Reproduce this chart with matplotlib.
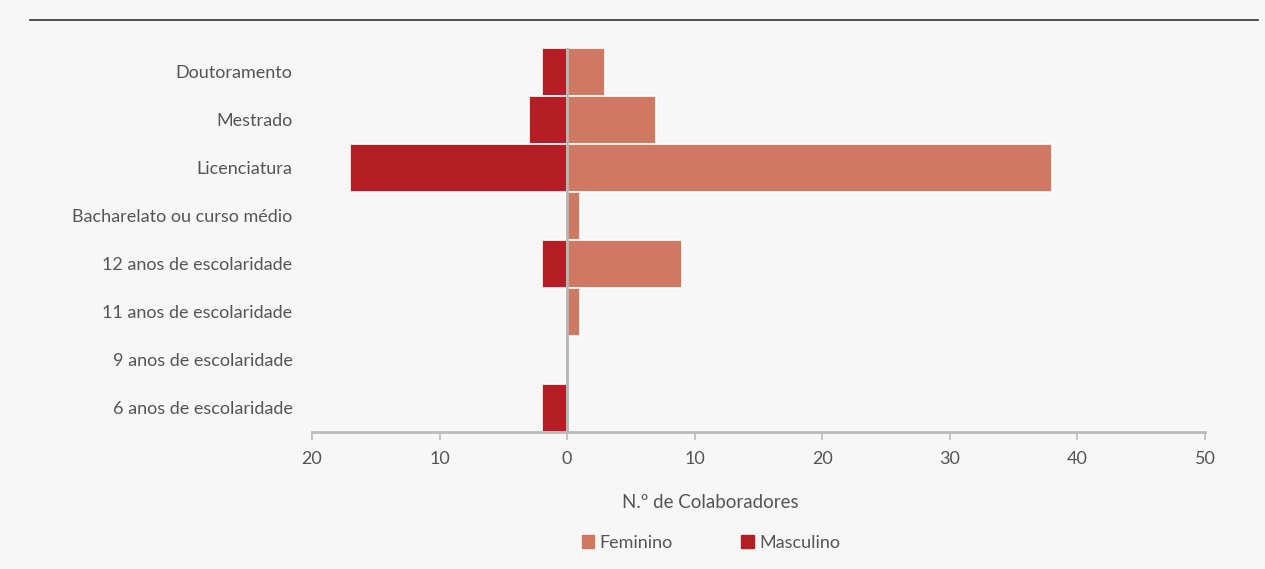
import matplotlib
matplotlib.use('Agg')
import matplotlib.pyplot as plt
from matplotlib.patches import Patch

categorias = ['Doutoramento', 'Mestrado', 'Licenciatura', 'Bacharelato ou curso médio',
              '12 anos de escolaridade', '11 anos de escolaridade',
              '9 anos de escolaridade', '6 anos de escolaridade']
feminino = [3, 7, 38, 1, 9, 1, 0, 0]
masculino = [2, 3, 17, 0, 2, 0, 0, 2]
ticks = [-20, -10, 0, 10, 20, 30, 40, 50]

cor_fem = '#cf7862'
cor_masc = '#b41f25'
cor_texto = '#555555'
fundo = '#f7f7f7'

plt.rcParams['font.family'] = ['Lato', 'DejaVu Sans']

fig = plt.figure(figsize=(12.65, 5.69), dpi=100)
fig.patch.set_facecolor(fundo)
ax = fig.add_axes([312 / 1265, 1 - 432 / 569, (1205 - 312) / 1265, (432 - 48) / 569])
ax.set_facecolor(fundo)

y = list(range(len(categorias)))
ax.barh(y, feminino, height=1.0, color=cor_fem, edgecolor='white', linewidth=1.2, zorder=2)
ax.barh(y, [-v for v in masculino], height=1.0, color=cor_masc, edgecolor='white', linewidth=1.2, zorder=2)
ax.axvline(0, color='#b5b5b5', linewidth=2, zorder=3)

ax.set_xlim(-20, 50)
ax.set_ylim(len(categorias) - 0.5, -0.5)
ax.set_yticks(y)
ax.set_yticklabels(categorias, fontsize=13, color=cor_texto)
ax.tick_params(axis='y', length=0, pad=14)
ax.set_xticks(ticks)
ax.set_xticklabels([str(abs(t)) for t in ticks], fontsize=13, color=cor_texto)
ax.tick_params(axis='x', length=6, width=1.2, color='#bbbbbb', pad=8, direction='out')

for s in ['top', 'right', 'left']:
    ax.spines[s].set_visible(False)
ax.spines['bottom'].set_color('#bbbbbb')
ax.spines['bottom'].set_linewidth(2)

ax.set_xlabel('N.º de Colaboradores', fontsize=13.5, color=cor_texto)
ax.xaxis.set_label_coords((710 - 312) / (1205 - 312), -(503 - 432) / (432 - 48), transform=ax.transAxes)
ax.xaxis.label.set_va('center')

handles = [Patch(color=cor_fem, label='Feminino'), Patch(color=cor_masc, label='Masculino')]
fig.legend(handles=handles, loc='center', bbox_to_anchor=(711 / 1265, 1 - 543 / 569),
           ncol=2, frameon=False, fontsize=13, handlelength=0.7, handleheight=0.7,
           handletextpad=0.3, columnspacing=3.8, labelcolor=cor_texto)

# linha superior
fig.add_artist(plt.Line2D([30 / 1265, 1258 / 1265], [1 - 20 / 569, 1 - 20 / 569],
                          color='#333333', linewidth=1.2))

fig.savefig('out.png', dpi=100, facecolor=fundo)
